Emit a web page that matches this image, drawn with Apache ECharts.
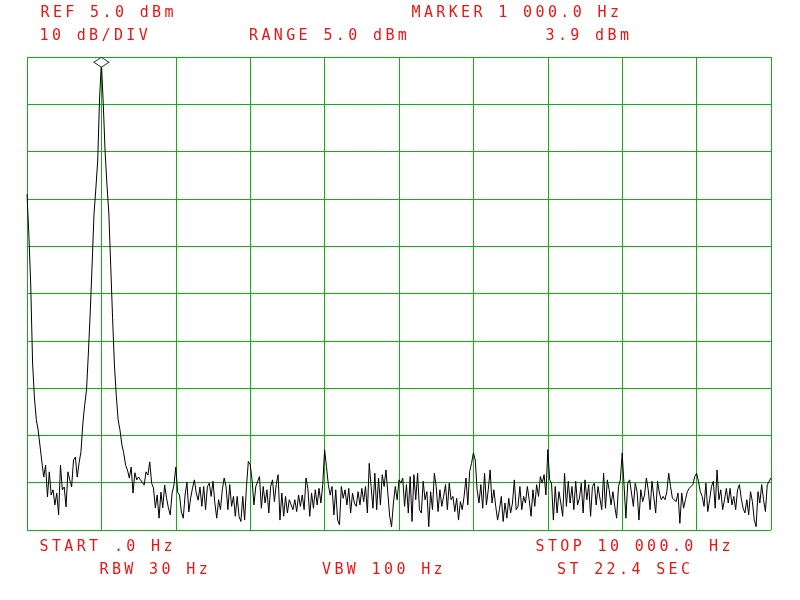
<!DOCTYPE html>
<html>
<head>
<meta charset="utf-8">
<script src="https://cdn.jsdelivr.net/npm/echarts@6/dist/echarts.min.js"></script>
<style>html,body{margin:0;padding:0;background:#fff}#c{width:800px;height:600px}</style>
</head>
<body>
<div id="c"></div>
<script>
// ---- Sweep settings (spectrum analyser) ----
const startHz = 0;
const stopHz = 10000;
const refLevel = 5.0;       // dBm, top of screen
const dbPerDiv = 10;
const divisions = 10;
const markerFreq = 1000;    // Hz
const markerLevel = 3.9;    // dBm

// ---- Trace levels (dBm), 401 sweep points ----
// points 0-51: DC feed-through and the 1 kHz tone
const traceStart = [
  -24.0,-32.6,-43.2,-59.7,-67.1,-71.7,-73.9,-74.3,-80.6,-83.8,
  -81.3,-88.0,-82.7,-87.6,-86.5,-89.7,-87.2,-91.8,-81.3,-86.5,
  -85.9,-90.1,-82.7,-84.4,-85.9,-80.2,-79.6,-83.8,-80.8,-78.5,
  -72.6,-68.6,-65.4,-57.6,-48.9,-39.0,-28.4,-22.9,-17.0,-3.9,
  3.9,-4.9,-15.1,-22.1,-28.0,-39.0,-50.0,-60.1,-66.5,-71.7,
  -73.9,-77.0
];
// points 52-93
const noiseA = [
  -78.7,-81.3,-82.3,-84.0,-81.7,-87.2,-82.9,-84.4,-83.8,-84.4,
  -84.4,-85.5,-82.7,-83.4,-80.6,-85.1,-86.1,-90.3,-87.6,-92.5,
  -87.0,-90.3,-85.5,-88.2,-90.3,-91.8,-87.2,-85.5,-81.7,-87.0,
  -87.6,-91.2,-92.5,-87.6,-84.9,-91.2,-88.2,-86.1,-84.4,-87.2,
  -88.7,-85.9
];
// points 94-200
const noiseB = [
  -90.0,-85.8,-90.7,-85.8,-85.1,-87.9,-84.7,-89.3,-92.5,-88.6,
  -90.7,-86.5,-84.0,-85.8,-90.7,-85.4,-90.0,-87.9,-92.1,-87.9,
  -92.1,-93.2,-87.9,-92.9,-85.8,-80.5,-81.2,-84.4,-89.7,-85.8,
  -85.4,-83.7,-90.4,-85.8,-89.3,-86.5,-91.4,-85.8,-84.4,-89.0,
  -85.4,-83.3,-92.9,-87.2,-92.1,-87.9,-91.4,-88.6,-89.0,-90.7,
  -88.6,-91.1,-87.6,-90.0,-87.6,-90.7,-84.0,-86.2,-92.1,-87.2,
  -90.4,-86.5,-89.7,-86.2,-89.3,-85.4,-78.0,-81.6,-85.4,-87.6,
  -85.8,-91.8,-86.5,-92.9,-93.9,-85.8,-88.3,-86.5,-89.7,-86.2,
  -91.4,-87.2,-89.3,-90.0,-86.9,-89.7,-86.2,-89.0,-85.8,-91.4,
  -80.9,-85.8,-90.4,-83.0,-90.7,-84.0,-89.7,-83.3,-85.8,-82.3,
  -87.2,-92.1,-94.3,-89.3,-85.8,-88.6,-84.4
];
// points 201-307
const noiseC = [
  -85.1,-84.0,-90.0,-85.4,-91.4,-83.7,-93.2,-83.3,-88.6,-83.0,
  -90.7,-91.4,-84.7,-88.6,-86.9,-94.3,-86.9,-90.7,-83.0,-85.8,
  -91.1,-86.5,-90.0,-87.9,-85.4,-90.7,-85.1,-88.6,-87.9,-91.1,
  -88.3,-92.9,-89.0,-90.7,-87.9,-84.0,-89.7,-82.6,-80.9,-78.7,
  -80.2,-86.5,-89.3,-85.4,-90.4,-83.0,-89.7,-86.5,-82.3,-89.3,
  -86.5,-90.0,-92.9,-90.7,-87.9,-93.2,-89.3,-92.5,-88.3,-91.4,
  -89.3,-84.4,-90.7,-90.0,-85.8,-90.7,-87.9,-89.3,-85.8,-88.6,
  -92.1,-86.5,-90.0,-85.4,-87.9,-83.7,-85.1,-83.3,-87.6,-78.0,
  -84.4,-85.1,-92.9,-85.8,-91.4,-86.9,-89.3,-92.1,-83.0,-90.0,
  -84.7,-89.3,-85.8,-90.7,-84.7,-89.7,-88.3,-85.1,-91.4,-84.4,
  -88.6,-85.4,-92.1,-85.8,-85.1,-89.7,-85.8
];
// points 308-400
const noiseD = [
  -85.4,-90.7,-83.0,-90.4,-84.4,-86.5,-89.7,-86.9,-90.0,-92.5,
  -85.8,-84.4,-78.7,-79.1,-92.5,-85.1,-84.4,-84.7,-90.0,-85.1,
  -86.9,-92.9,-86.5,-89.0,-87.6,-84.0,-86.5,-90.7,-84.7,-85.1,
  -91.4,-84.7,-87.2,-88.6,-87.9,-88.6,-86.9,-83.0,-85.8,-88.3,
  -88.3,-89.0,-87.2,-93.6,-87.2,-90.4,-88.6,-86.9,-86.2,-86.2,
  -85.4,-83.7,-83.0,-84.7,-86.9,-87.9,-90.0,-85.1,-91.1,-88.6,
  -85.8,-84.7,-90.4,-82.3,-88.6,-86.5,-90.7,-88.6,-86.2,-89.3,
  -86.2,-89.7,-87.9,-90.7,-86.5,-85.4,-88.3,-90.4,-91.4,-88.6,
  -91.8,-86.9,-89.0,-92.9,-94.3,-86.9,-89.3,-85.4,-88.6,-91.1,
  -85.4,-85.1,-84.0
];

// ---- Screen annotations ----
const headerTexts = ['REF 5.0 dBm', '10 dB/DIV', 'RANGE 5.0 dBm', 'MARKER 1 000.0 Hz', '3.9 dBm'];
const footerTexts = ['START .0 Hz', 'RBW 30 Hz', 'VBW 100 Hz', 'STOP 10 000.0 Hz', 'ST 22.4 SEC'];

// ---- Layout / style (not data) ----
const GRID_GREEN = '#12b012';
const TEXT_RED = '#ee1414';
const CHAR_PITCH = 12.4;
const headerPos = [[40.5, 13.5], [39.5, 36.5], [249, 36.5], [411.5, 13.5], [545.5, 36.5]];
const footerPos = [[39.5, 547], [99.5, 570], [322, 570], [535.5, 547], [557, 570]];

const trace = [].concat(traceStart, noiseA, noiseB, noiseC, noiseD);
const stepHz = (stopHz - startHz) / (trace.length - 1);
const seriesData = trace.map((v, i) => [startHz + i * stepHz, v]);

function labelGroup(text, pos) {
  const children = [];
  for (let k = 0; k < text.length; k++) {
    const ch = text[k];
    if (ch === ' ') continue;
    children.push({
      type: 'text',
      x: k * CHAR_PITCH,
      y: 0,
      style: {
        text: ch,
        fill: TEXT_RED,
        fontFamily: '"DejaVu Sans Mono", monospace',
        fontSize: 15,
        align: 'left',
        verticalAlign: 'middle'
      }
    });
  }
  return { type: 'group', x: pos[0], y: pos[1], silent: true, children: children };
}

const graphics = []
  .concat(headerTexts.map((t, i) => labelGroup(t, headerPos[i])))
  .concat(footerTexts.map((t, i) => labelGroup(t, footerPos[i])));

const chart = echarts.init(document.getElementById('c'), null, { renderer: 'canvas' });
chart.setOption({
  animation: false,
  backgroundColor: '#ffffff',
  grid: { left: 27, right: 29, top: 57, bottom: 70, show: false },
  xAxis: {
    type: 'value', min: startHz, max: stopHz, interval: (stopHz - startHz) / divisions,
    axisLabel: { show: false }, axisTick: { show: false }, axisLine: { show: false },
    splitLine: { show: true, lineStyle: { color: GRID_GREEN, width: 1 } }
  },
  yAxis: [
    {
      type: 'value', min: refLevel - dbPerDiv * divisions, max: refLevel,
      axisLabel: { show: false }, axisTick: { show: false }, axisLine: { show: false },
      splitLine: { show: false }
    },
    {
      type: 'value', min: 0, max: divisions, interval: 1, position: 'right',
      axisLabel: { show: false }, axisTick: { show: false }, axisLine: { show: false },
      splitLine: { show: true, lineStyle: { color: GRID_GREEN, width: 1 } }
    }
  ],
  series: [{
    type: 'line',
    yAxisIndex: 0,
    data: seriesData,
    showSymbol: false,
    silent: true,
    lineStyle: { color: '#000000', width: 1 },
    markPoint: {
      symbol: 'diamond',
      symbolSize: [15, 10],
      silent: true,
      label: { show: false },
      itemStyle: { color: '#ffffff', borderColor: '#333333', borderWidth: 1 },
      data: [{ coord: [markerFreq, markerLevel] }]
    }
  }],
  graphic: graphics
});
</script>
</body>
</html>
